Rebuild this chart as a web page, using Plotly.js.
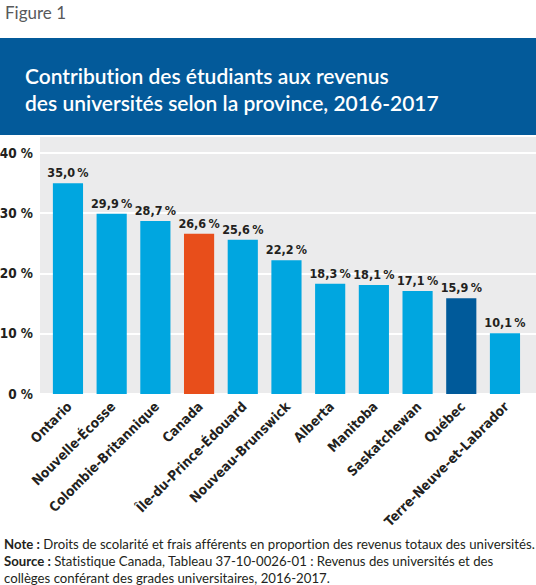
<!DOCTYPE html>
<html>
<head>
<meta charset="utf-8">
<script src="https://cdn.plot.ly/plotly-3.0.1.min.js"></script>
<style>
html,body{margin:0;padding:0;background:#fff;}
#chart{width:536px;height:585px;}
svg text{font-variant-ligatures:none !important;font-feature-settings:"liga" 0,"clig" 0 !important;}
</style>
</head>
<body>
<div id="chart"></div>
<script>
const provinces = ["Ontario","Nouvelle-Écosse","Colombie-Britannique","Canada","Île-du-Prince-Édouard","Nouveau-Brunswick","Alberta","Manitoba","Saskatchewan","Québec","Terre-Neuve-et-Labrador"];
const shares = [35.0, 29.9, 28.7, 26.6, 25.6, 22.2, 18.3, 18.1, 17.1, 15.9, 10.1];
const barColors = ["#00a6e0","#00a6e0","#00a6e0","#e84e1b","#00a6e0","#00a6e0","#00a6e0","#00a6e0","#00a6e0","#005a9a","#00a6e0"];
const yTicks = [0, 10, 20, 30, 40];

const condensed = "DejaVu Sans Condensed, sans-serif";
const plotL = 40, plotR = 0, plotT = 137, plotB = 190;
const W = 536, H = 585;
const pw = W - plotL - plotR, ph = H - plotT - plotB;
const px2x = x => (x - plotL) / pw;
const px2y = y => (H - plotB - y) / ph;

const trace = {
  type: "bar",
  x: provinces,
  y: shares,
  marker: {color: barColors, line: {width: 0}},
  texttemplate: "%{y:.1f}\u2009%",
  textposition: "outside",
  constraintext: "none",
  textfont: {family: condensed, size: 12.5, color: "#231f20", weight: 700},
  cliponaxis: false,
  hoverinfo: "skip"
};

const layout = {
  width: W, height: H,
  margin: {l: plotL, r: plotR, t: plotT, b: plotB},
  paper_bgcolor: "#ffffff",
  plot_bgcolor: "#ebebec",
  separators: ", ",
  bargap: 0.31,
  showlegend: false,
  title: {
    text: "Contribution des étudiants aux revenus<br>des universités selon la province, 2016-2017",
    font: {family: "Lato, Open Sans, sans-serif", size: 21, color: "#ffffff", weight: 600},
    xref: "container", yref: "container",
    x: 25 / W, xanchor: "left",
    y: 1 - 84 / H, yanchor: "middle"
  },
  xaxis: {
    type: "category",
    range: [-0.64, 10.71],
    tickangle: -45,
    tickfont: {family: condensed, size: 13.5, color: "#231f20", weight: 700},
    showgrid: false, zeroline: false, showline: false,
    ticks: "", ticklen: 0
  },
  yaxis: {
    range: [-0.17, 42.66],
    tickvals: yTicks,
    ticktext: yTicks.map(v => v + " %"),
    tickfont: {family: condensed, size: 13.5, color: "#231f20", weight: 700},
    showgrid: true, gridcolor: "#ffffff", gridwidth: 2,
    zeroline: false, showline: false, ticks: "",
    ticklabelstandoff: 6
  },
  shapes: [{
    type: "rect", xref: "paper", yref: "paper",
    x0: px2x(0), x1: 1, y0: px2y(135), y1: px2y(38),
    fillcolor: "#035a9a", line: {width: 0}, layer: "below"
  }],
  annotations: [
    {
      text: "Figure 1", xref: "paper", yref: "paper",
      x: px2x(3), y: px2y(12), xanchor: "left", yanchor: "middle",
      showarrow: false, font: {family: "Lato, Open Sans, sans-serif", size: 17, color: "#58595b"}
    },
    {
      text: "<b>Note :</b> Droits de scolarité et frais afférents en proportion des revenus totaux des universités.<br><b>Source :</b> Statistique Canada, Tableau 37-10-0026-01 : Revenus des universités et des<br>collèges conférant des grades universitaires, 2016-2017.",
      xref: "paper", yref: "paper",
      x: px2x(2), y: px2y(534), xanchor: "left", yanchor: "top", align: "left",
      showarrow: false,
      font: {family: "Lato, Open Sans, sans-serif", size: 13.2, color: "#231f20"}
    }
  ]
};

Plotly.newPlot("chart", [trace], layout, {displayModeBar: false, staticPlot: true});
</script>
</body>
</html>
